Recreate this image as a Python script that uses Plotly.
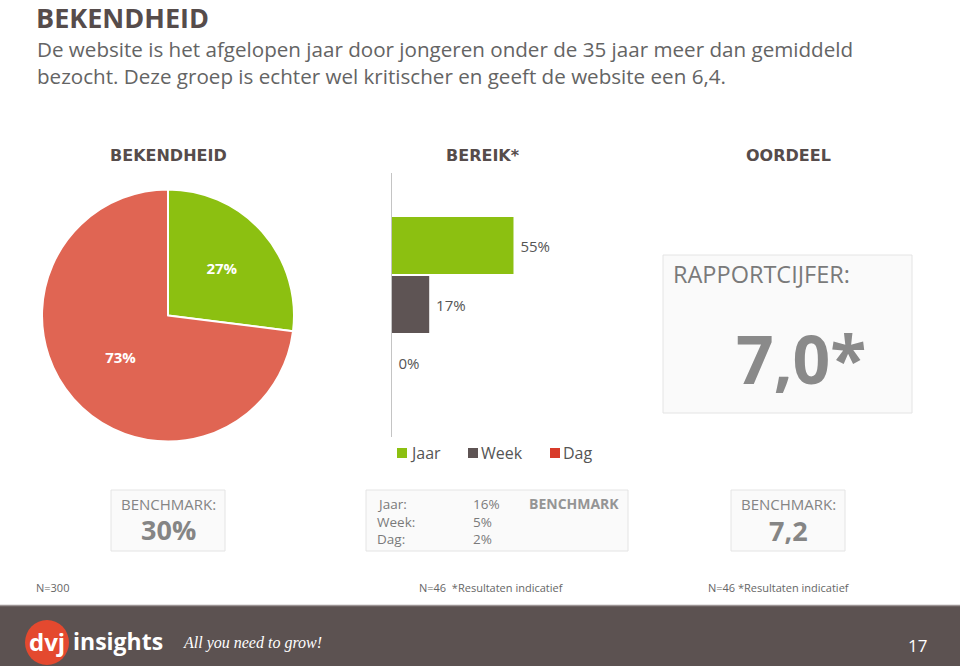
import plotly.graph_objects as go

W, H = 960, 666

# ---------------- data ----------------
pie_labels = ["Bekend", "Niet bekend"]
pie_values = [27, 73]
pie_colors = ["#8cc011", "#e06553"]

bereik_categories = ["Jaar", "Week", "Dag"]
bereik_values = [55, 17, 0]
bereik_colors = ["#8cc011", "#5e5454", "#d83b2a"]

benchmark_bekendheid = "30%"
benchmark_bereik_labels = ["Jaar:", "Week:", "Dag:"]
benchmark_bereik_values = ["16%", "5%", "2%"]
rapportcijfer = "7,0*"
benchmark_oordeel = "7,2"

footnotes = ["N=300", "N=46  *Resultaten indicatief", "N=46 *Resultaten indicatief"]

FONT = "Open Sans"
TITLE_FONT = "DejaVu Sans"
DARK = "#564c4b"


def px(x):
    return x / W


def py(y):
    return 1 - y / H


fig = go.Figure()

# ---------------- pie ----------------
fig.add_trace(go.Pie(
    labels=pie_labels, values=pie_values,
    marker=dict(colors=pie_colors, line=dict(color="white", width=2)),
    sort=False, direction="clockwise", rotation=0,
    texttemplate="%{value}%", textposition="inside",
    insidetextorientation="horizontal",
    textfont=dict(family=FONT, size=15, color="white", weight="bold"),
    domain=dict(x=[px(42), px(294)], y=[py(441.5), py(189.5)]),
    showlegend=False, hoverinfo="skip",
))

# ---------------- bars ----------------
fig.add_trace(go.Bar(
    y=bereik_categories, x=bereik_values, orientation="h",
    marker=dict(color=bereik_colors, line=dict(width=0)),
    texttemplate="\u00a0%{x}%", textposition="outside",
    textfont=dict(family=FONT, size=15, color="#555555"),
    cliponaxis=False, showlegend=False, hoverinfo="skip",
))

fig.update_layout(
    width=W, height=H,
    margin=dict(l=0, r=0, t=0, b=0),
    paper_bgcolor="white", plot_bgcolor="rgba(0,0,0,0)",
    bargap=2 / 59,
    xaxis=dict(domain=[px(391.5), px(391.5 + 221.8)], range=[0, 100],
               visible=False, fixedrange=True),
    yaxis=dict(domain=[py(437), py(173)], range=[3.246, -1.229],
               showline=True, linecolor="#c4c4c4", linewidth=1,
               showticklabels=False, ticks="", showgrid=False, zeroline=False,
               anchor="x", fixedrange=True),
    font=dict(family=FONT, color="#555555"),
)

shapes = []
annotations = []


def text(x, y, t, size, color="#555555", anchor="left", weight="normal", family=FONT, style="normal"):
    annotations.append(dict(
        x=px(x), y=py(y), xref="paper", yref="paper", text=t, showarrow=False,
        xanchor=anchor, yanchor="middle",
        font=dict(family=family, size=size, color=color, weight=weight, style=style),
    ))


def box(x0, y0, x1, y1, fill="#fafafa", line="#e4e4e4"):
    shapes.append(dict(type="rect", xref="paper", yref="paper",
                       x0=px(x0), x1=px(x1), y0=py(y1), y1=py(y0),
                       fillcolor=fill, line=dict(color=line, width=1), layer="below"))


# header
text(34, 18, "BEKENDHEID", 27, DARK, weight="bold")
text(35, 49, "De website is het afgelopen jaar door jongeren onder de 35 jaar meer dan gemiddeld", 20.6, "#646464")
text(35, 76, "bezocht. Deze groep is echter wel kritischer en geeft de website een 6,4.", 20.6, "#646464")

# section titles
text(168, 155, "BEKENDHEID", 16, DARK, anchor="center", weight="bold", family=TITLE_FONT)
text(483, 155, "BEREIK*", 16, DARK, anchor="center", weight="bold", family=TITLE_FONT)
text(788, 155, "OORDEEL", 16, DARK, anchor="center", weight="bold", family=TITLE_FONT)

# rapportcijfer box
box(663, 255, 912, 413)
text(671, 274, "RAPPORTCIJFER:", 23.5, "#7a7a7a")
text(801, 358, rapportcijfer, 66, "#8a8a8a", anchor="center", weight="bold")

# legend (manual)
legend_x = [397, 468, 550]
for lx, lab, col in zip(legend_x, bereik_categories, bereik_colors):
    shapes.append(dict(type="rect", xref="paper", yref="paper",
                       x0=px(lx), x1=px(lx + 10), y0=py(458), y1=py(448),
                       fillcolor=col, line=dict(width=0)))
    text(lx + 11, 453, lab, 16, "#555555")

# benchmark boxes
box(111, 490, 225, 551)
text(168, 504, "BENCHMARK:", 15, "#858585", anchor="center")
text(168, 529, benchmark_bekendheid, 27, "#858585", anchor="center", weight="bold")

box(366, 490, 628, 551)
for i, (lab, val) in enumerate(zip(benchmark_bereik_labels, benchmark_bereik_values)):
    yy = 504 + i * 17.5
    text(375, yy, lab, 13.5, "#7a7a7a")
    text(471, yy, val, 13.5, "#7a7a7a")
text(527, 503, "BENCHMARK", 14, "#959595", weight="bold")

box(731, 490, 845, 551)
text(788, 504, "BENCHMARK:", 15, "#858585", anchor="center")
text(788, 530, benchmark_oordeel, 27, "#858585", anchor="center", weight="bold")

# footnotes
text(34, 587, footnotes[0], 11, "#666666")
text(417, 587, footnotes[1], 11, "#666666")
text(706, 587, footnotes[2], 11, "#666666")

# footer band
shapes.append(dict(type="rect", xref="paper", yref="paper", x0=0, x1=1, y0=0, y1=py(606),
                   fillcolor="#5c5251", line=dict(width=0)))
shapes.append(dict(type="line", xref="paper", yref="paper", x0=0, x1=1, y0=py(605.5), y1=py(605.5),
                   line=dict(color="#9c9494", width=1.5)))
shapes.append(dict(type="circle", xref="paper", yref="paper",
                   x0=px(25), x1=px(69), y0=py(665), y1=py(620),
                   fillcolor="#e4492f", line=dict(width=0)))
text(47, 641, "dvj", 24, "white", anchor="center", weight="bold")
text(71, 641, "insights", 23, "white", weight="bold")
text(181, 643, "All you need to grow!", 16, "white", family="Liberation Serif", style="italic")
text(917, 645, "17", 17, "white", anchor="center")

fig.update_layout(shapes=shapes, annotations=annotations)

fig.write_html("out.html", config={"displayModeBar": False},
               post_script="document.body.style.margin='0';document.body.style.overflow='hidden';")
